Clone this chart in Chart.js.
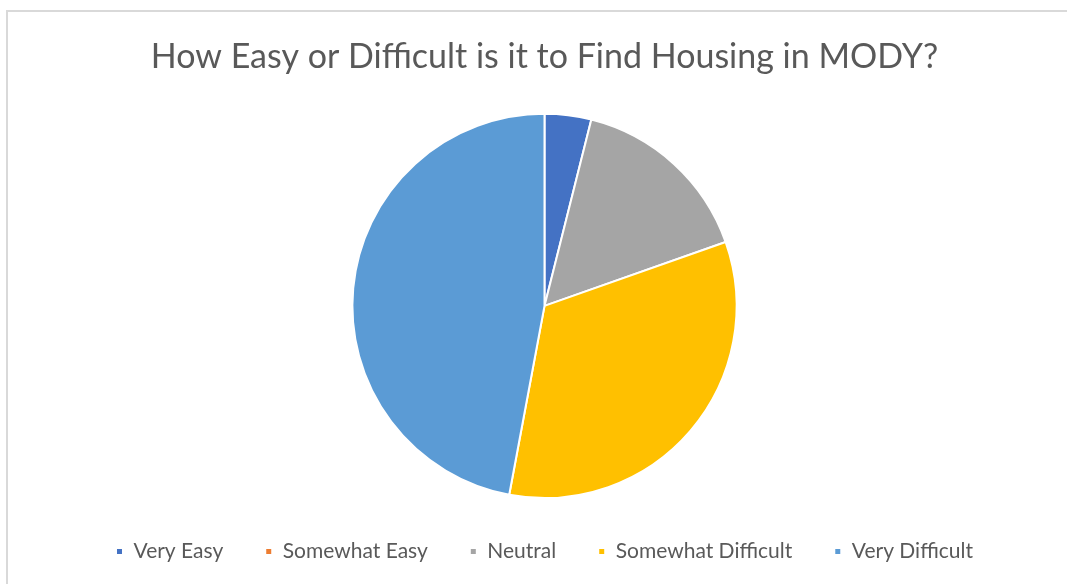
<!DOCTYPE html>
<html>
<head>
<meta charset="utf-8">
<script src="https://cdn.jsdelivr.net/npm/chart.js@4.4.1/dist/chart.umd.min.js"></script>
<style>
	html, body { margin: 0; padding: 0; background: #fff; overflow: hidden; }
	#wrap { position: relative; width: 1067px; height: 584px; }
</style>
</head>
<body>
<div id="wrap"><canvas id="pieChart"></canvas></div>
<script>
"use strict"

// DATA -----------------------
const answers = [
	"Very Easy",
	"Somewhat Easy",
	"Neutral",
	"Somewhat Difficult",
	"Very Difficult",
]

const responses = [2, 0, 8, 17, 24]

const colors = ["#4472C4", "#ED7D31", "#A5A5A5", "#FFC000", "#5B9BD5"]

const chartTitle = "How Easy or Difficult is it to Find Housing in MODY?"

// chart frame (top and left edge only, the rest is cut off in the picture)
const framePlugin = {
	id: "frame",
	beforeDraw(chart) {
		const c = chart.ctx
		c.save()
		c.fillStyle = "#d9d9d9"
		c.fillRect(6, 10, chart.width - 6, 2)
		c.fillRect(6, 10, 2, chart.height - 10)
		c.restore()
	},
}

// CHART -----------------------
var ctx = document.getElementById("pieChart").getContext("2d")

var pieChart = new Chart(ctx, {
	type: "pie",
	data: {
		labels: answers,
		datasets: [
			{
				data: responses,
				backgroundColor: colors,
				borderColor: "#ffffff",
				borderWidth: 2,
			},
		],
	},
	options: {
		responsive: true,
		maintainAspectRatio: false,
		animation: false,
		layout: {
			padding: { top: 0, bottom: 12, left: 22, right: 0 },
		},
		plugins: {
			title: {
				display: true,
				text: chartTitle,
				color: "#595959",
				font: { family: "Lato", size: 34, weight: "normal" },
				padding: { top: 37, bottom: 35 },
			},
			legend: {
				position: "bottom",
				labels: {
					color: "#595959",
					font: { family: "Lato", size: 21 },
					boxWidth: 7,
					boxHeight: 7,
					padding: 42,
				},
			},
			tooltip: { enabled: false },
		},
	},
	plugins: [framePlugin],
})
</script>
</body>
</html>
